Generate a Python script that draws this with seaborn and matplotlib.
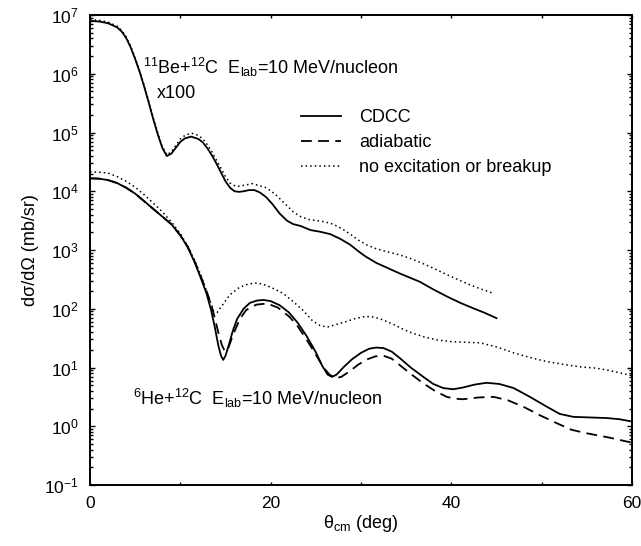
import numpy as np
import pandas as pd
import matplotlib
matplotlib.use("Agg")
import matplotlib.pyplot as plt
import seaborn as sns
from matplotlib.ticker import LogLocator, MultipleLocator, NullFormatter

# values as log10(dsigma/dOmega)
# 11Be + 12C (x100), CDCC
be_x = [0, 1, 2, 3, 3.5, 4, 4.5, 5, 5.5, 6, 6.5, 7, 7.5, 8, 8.5, 9, 9.5, 10, 10.5, 11.2, 12, 12.5,
        13, 13.5, 14, 14.5, 15, 15.5, 16, 16.5, 17, 17.6, 18.2, 18.8, 19.5, 20.2, 21, 21.8, 22.5,
        23.3, 24.4, 25.5, 26.6, 27.7, 28.8, 29.7, 30.5, 31.7, 33, 34.3, 35.4, 36.5, 38, 39.5, 41,
        42.4, 43.7, 45]
be_cdcc = [6.90, 6.89, 6.86, 6.79, 6.72, 6.61, 6.45, 6.25, 6.03, 5.78, 5.51, 5.23, 4.97, 4.74, 4.60,
           4.64, 4.74, 4.84, 4.90, 4.93, 4.89, 4.83, 4.73, 4.61, 4.47, 4.32, 4.17, 4.06, 4.00, 3.99,
           4.00, 4.02, 4.02, 3.98, 3.90, 3.78, 3.62, 3.50, 3.44, 3.41, 3.34, 3.31, 3.27, 3.19, 3.09,
           2.98, 2.89, 2.78, 2.69, 2.60, 2.53, 2.46, 2.33, 2.21, 2.10, 2.01, 1.93, 1.84]

# 11Be + 12C (x100), no excitation or breakup
be_nox_x = [0, 1, 2, 3, 3.5, 4, 4.5, 5, 5.5, 6, 6.5, 7, 7.5, 8, 8.5, 9, 9.5, 10, 10.5, 11.2, 12,
            12.5, 13, 13.5, 14, 14.5, 15, 15.5, 16.2, 17, 18, 19.5, 20.5, 21.5, 22.5, 23.3, 24.2,
            25.1, 26, 26.9, 27.8, 28.8, 29.7, 30.6, 31.7, 32.9, 34.2, 35.4, 36.7, 38, 39.8, 41.7,
            43.2, 44.7]
be_nox = [6.92, 6.91, 6.88, 6.81, 6.74, 6.63, 6.47, 6.27, 6.05, 5.80, 5.53, 5.25, 4.99, 4.76, 4.62,
          4.67, 4.78, 4.89, 4.95, 4.99, 4.95, 4.89, 4.79, 4.67, 4.53, 4.39, 4.25, 4.14, 4.08, 4.10,
          4.13, 4.06, 3.95, 3.80, 3.65, 3.57, 3.52, 3.50, 3.48, 3.44, 3.37, 3.27, 3.17, 3.09, 3.02,
          2.97, 2.92, 2.86, 2.78, 2.69, 2.56, 2.43, 2.34, 2.26]

# 6He + 12C, CDCC
he_x = [0, 1, 2, 3, 4, 5, 6, 7, 8, 9, 10, 10.8, 11.5, 12.2, 12.9, 13.4, 13.8, 14.2, 14.5, 14.75, 15,
        15.4, 15.8, 16.3, 17, 17.7, 18.5, 19.2, 20, 21, 22, 23, 24, 25, 25.7, 26.3, 26.8, 27.3, 28.1,
        29, 30, 30.9, 31.7, 32.5, 33.4, 34.3, 35.5, 36.9, 38, 39.1, 40.2, 41.3, 42.6, 43.9, 45.3,
        46.9, 48.7, 50.6, 52, 53.5, 55.3, 57.2, 58.6, 60]
he_cdcc = [4.22, 4.215, 4.19, 4.14, 4.06, 3.96, 3.83, 3.70, 3.57, 3.44, 3.25, 3.05, 2.82, 2.55, 2.26,
           1.98, 1.70, 1.38, 1.20, 1.13, 1.20, 1.40, 1.62, 1.83, 2.00, 2.10, 2.14, 2.15, 2.13, 2.06,
           1.94, 1.76, 1.53, 1.26, 1.03, 0.88, 0.84, 0.88, 1.01, 1.14, 1.25, 1.32, 1.34, 1.33, 1.27,
           1.16, 1.00, 0.84, 0.72, 0.65, 0.63, 0.66, 0.71, 0.74, 0.72, 0.65, 0.50, 0.33, 0.21, 0.16,
           0.15, 0.14, 0.12, 0.08]

# 6He + 12C, adiabatic
he_ad_x = [0, 1, 2, 3, 4, 5, 6, 7, 8, 9, 10, 10.8, 11.5, 12.2, 12.9, 13.4, 13.8, 14.2, 14.6, 14.95,
           15.3, 15.9, 16.6, 17.3, 18.4, 19.6, 20.8, 22.1, 23, 24, 25, 25.8, 26.5, 27.2, 27.8, 28.7,
           29.7, 30.7, 31.6, 32.5, 33.4, 34.3, 35.6, 36.9, 38.2, 39.5, 40.4, 41.3, 43, 44.7, 46.3,
           48, 49.9, 51.7, 53.3, 55, 57.4, 60]
he_ad = [4.22, 4.215, 4.19, 4.14, 4.06, 3.96, 3.83, 3.70, 3.57, 3.44, 3.25, 3.06, 2.84, 2.58, 2.30,
         2.08, 1.85, 1.60, 1.38, 1.27, 1.33, 1.58, 1.83, 1.98, 2.07, 2.09, 2.02, 1.86, 1.70, 1.47,
         1.22, 1.01, 0.88, 0.82, 0.84, 0.93, 1.05, 1.14, 1.19, 1.20, 1.15, 1.04, 0.88, 0.73, 0.60,
         0.50, 0.47, 0.46, 0.49, 0.50, 0.44, 0.33, 0.18, 0.05, -0.06, -0.12, -0.19, -0.28]

# 6He + 12C, no excitation or breakup
he_nox_x = [0, 1, 2, 3, 4, 5, 6, 7, 8, 9, 10, 11, 12.2, 12.8, 13.3, 13.7, 14.1, 14.6, 15.5, 16.5,
            17.5, 18.5, 19.5, 20.5, 21.4, 22.5, 23.6, 24.6, 25.5, 26.3, 27, 28.1, 29.3, 30.5, 31.3,
            32.1, 33.5, 34.8, 35.8, 37, 38.4, 40, 41.6, 43.2, 45, 46.9, 48.7, 50.6, 52.5, 54.3, 56,
            57.5, 60]
he_nox = [4.33, 4.325, 4.31, 4.25, 4.17, 4.07, 3.94, 3.80, 3.65, 3.48, 3.28, 3.02, 2.60, 2.35, 2.13,
          1.96, 1.94, 2.05, 2.24, 2.36, 2.42, 2.44, 2.40, 2.33, 2.26, 2.12, 1.97, 1.80, 1.71, 1.69,
          1.72, 1.77, 1.83, 1.87, 1.86, 1.83, 1.74, 1.64, 1.58, 1.52, 1.47, 1.44, 1.43, 1.42, 1.35,
          1.25, 1.17, 1.10, 1.05, 1.01, 0.99, 0.95, 0.86]

plt.rcParams['font.family'] = ['Liberation Sans', 'DejaVu Sans']
plt.rcParams['mathtext.fontset'] = 'custom'
plt.rcParams['mathtext.rm'] = 'Liberation Sans'
plt.rcParams['mathtext.it'] = 'Liberation Sans:italic'
plt.rcParams['mathtext.default'] = 'regular'

fig = plt.figure(figsize=(6.41, 5.46), dpi=100)
ax = fig.add_axes([0.1404, 0.1117, 0.8456, 0.8608])

lw = 1.3
dots = (0, (1, 2))
dash = (0, (6, 3.5))
sns.lineplot(x=be_x, y=10 ** np.array(be_cdcc), ax=ax, color='black', lw=lw,
             estimator=None, sort=False)
sns.lineplot(x=be_nox_x, y=10 ** np.array(be_nox), ax=ax, color='black', lw=1.1,
             estimator=None, sort=False, linestyle=dots)
sns.lineplot(x=he_x, y=10 ** np.array(he_cdcc), ax=ax, color='black', lw=lw,
             estimator=None, sort=False, label='CDCC')
sns.lineplot(x=he_ad_x, y=10 ** np.array(he_ad), ax=ax, color='black', lw=lw,
             estimator=None, sort=False, linestyle=dash, label='adiabatic')
sns.lineplot(x=he_nox_x, y=10 ** np.array(he_nox), ax=ax, color='black', lw=1.1,
             estimator=None, sort=False, linestyle=dots, label='no excitation or breakup')

ax.set_yscale('log')
ax.set_xlim(0, 60)
ax.set_ylim(1e-1, 1e7)
ax.xaxis.set_major_locator(MultipleLocator(20))
ax.xaxis.set_minor_locator(MultipleLocator(10))
ax.yaxis.set_major_locator(LogLocator(base=10, numticks=20))
ax.yaxis.set_minor_locator(LogLocator(base=10, subs=np.arange(2, 10), numticks=20))
ax.yaxis.set_minor_formatter(NullFormatter())
ax.tick_params(which='both', direction='in', top=True, right=True, bottom=True, left=True,
               width=1.0, labelsize=12.5, colors='black')
ax.tick_params(which='major', length=3.5, pad=8)
ax.tick_params(axis='x', which='both', length=2.5)
ax.tick_params(axis='y', which='minor', length=2.2)
for s in ax.spines.values():
    s.set_linewidth(1.4)
    s.set_color('black')

ax.set_xlabel(r'$\theta_{cm}$ (deg)', fontsize=13, labelpad=1)
ax.set_ylabel('dσ/dΩ (mb/sr)', fontsize=13, labelpad=4)

ax.text(5.87, 1.0e6, r'$^{11}$Be+$^{12}$C  E$_{lab}$=10 MeV/nucleon', fontsize=13, va='baseline')
ax.text(7.38, 3.8e5, 'x100', fontsize=13, va='baseline')
ax.text(4.8, 2.3, r'$^{6}$He+$^{12}$C  E$_{lab}$=10 MeV/nucleon', fontsize=13, va='baseline')

ax.legend(loc='upper left', bbox_to_anchor=(0.39, 0.80), frameon=False, fontsize=13,
          handlelength=2.2, handletextpad=1.0, labelspacing=0.45, borderpad=0, borderaxespad=0)

fig.savefig('out.png', dpi=100)
